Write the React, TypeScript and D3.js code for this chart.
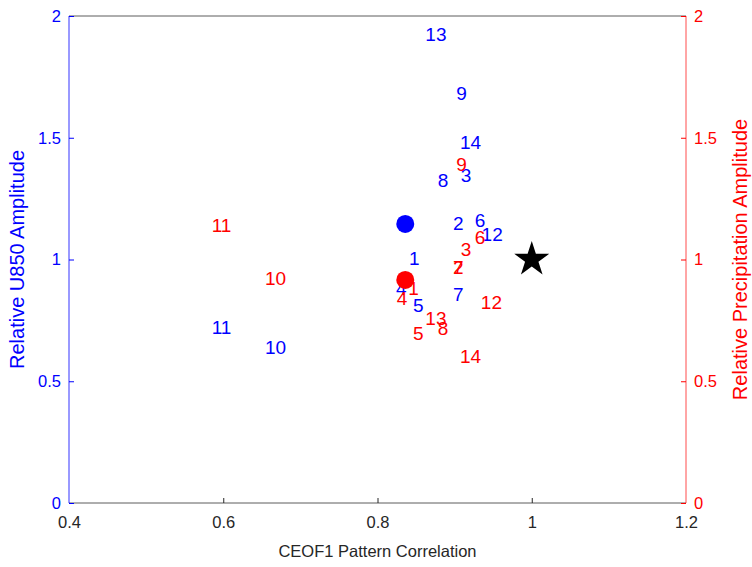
import { useEffect, useRef } from 'react'
import * as d3 from 'd3'

// CEOF1 pattern correlation vs relative amplitude, per model (1..14)
const models = ['1', '2', '3', '4', '5', '6', '7', '8', '9', '10', '11', '12', '13', '14']
const corr = [0.841, 0.898, 0.908, 0.824, 0.846, 0.926, 0.898, 0.878, 0.902, 0.654, 0.585, 0.935, 0.862, 0.907]
const u850Amp = [1.006, 1.15, 1.347, 0.883, 0.813, 1.162, 0.858, 1.326, 1.684, 0.641, 0.723, 1.105, 1.926, 1.483]

const corrPr = [0.840, 0.898, 0.908, 0.825, 0.846, 0.926, 0.898, 0.878, 0.902, 0.654, 0.585, 0.934, 0.862, 0.907]
const prAmp = [0.883, 0.969, 1.043, 0.842, 0.698, 1.092, 0.969, 0.719, 1.392, 0.924, 1.142, 0.825, 0.76, 0.604]

// multi-model mean markers and the observation reference
const meanU850 = { corr: 0.836, amp: 1.146 }
const meanPr = { corr: 0.836, amp: 0.916 }
const obs = { corr: 1, amp: 1 }

const xTicks = [0.4, 0.6, 0.8, 1, 1.2]
const yTicks = [0, 0.5, 1, 1.5, 2]

const BLUE = '#0000ff'
const RED = '#ff0000'
const GREY = '#262626'
const FONT = '"Liberation Sans", Arial, Helvetica, sans-serif'

export default function App() {
  const svgRef = useRef<SVGSVGElement>(null)
  const width = 752
  const height = 567

  useEffect(() => {
    const el = svgRef.current
    if (!el) return

    const margin = { top: 16, right: 66, bottom: 64, left: 69 }
    const w = width - margin.left - margin.right
    const h = height - margin.top - margin.bottom

    const x = d3.scaleLinear().domain([0.4, 1.2]).range([0, w])
    const yL = d3.scaleLinear().domain([0, 2]).range([h, 0])
    const yR = d3.scaleLinear().domain([0, 2]).range([h, 0])

    const svg = d3.select(el)
    svg.selectAll('*').remove()
    svg.append('rect').attr('width', width).attr('height', height).attr('fill', '#fff')

    const g = svg.append('g').attr('transform', `translate(${margin.left},${margin.top})`)

    const styleAxis = (ax: any, color: string) => {
      ax.select('.domain').remove()
      ax.selectAll('line').attr('stroke', color).attr('stroke-width', 1)
      ax.selectAll('text')
        .attr('fill', color)
        .attr('font-family', FONT)
        .attr('font-size', '16.5px')
    }

    // top & bottom box lines
    g.append('line').attr('x1', 0).attr('x2', w).attr('y1', 0).attr('y2', 0)
      .attr('stroke', GREY).attr('stroke-opacity', 0.75)
    g.append('line').attr('x1', 0).attr('x2', w).attr('y1', h).attr('y2', h)
      .attr('stroke', GREY).attr('stroke-opacity', 0.75)

    g.append('g')
      .attr('transform', `translate(0,${h})`)
      .call(d3.axisBottom(x).tickValues(xTicks).tickFormat(d3.format('~g') as any).tickSizeInner(-5).tickSizeOuter(0).tickPadding(13))
      .call(ax => styleAxis(ax, GREY))
      .call(ax => ax.selectAll('.tick').filter((d: any) => d === 0.4 || d === 1.2).select('line').remove())

    g.append('g')
      .call(d3.axisLeft(yL).tickValues(yTicks).tickFormat(d3.format('~g') as any).tickSizeInner(-5).tickSizeOuter(0).tickPadding(8))
      .call(ax => styleAxis(ax, BLUE))
    g.append('line').attr('x1', 0).attr('x2', 0).attr('y1', 0).attr('y2', h)
      .attr('stroke', BLUE).attr('stroke-opacity', 0.8)

    g.append('g')
      .attr('transform', `translate(${w},0)`)
      .call(d3.axisRight(yR).tickValues(yTicks).tickFormat(d3.format('~g') as any).tickSizeInner(-5).tickSizeOuter(0).tickPadding(8))
      .call(ax => styleAxis(ax, RED))
    g.append('line').attr('x1', w).attr('x2', w).attr('y1', 0).attr('y2', h)
      .attr('stroke', RED).attr('stroke-opacity', 0.7)

    // axis titles
    svg.append('text')
      .attr('x', margin.left + w / 2).attr('y', 557)
      .attr('text-anchor', 'middle')
      .attr('font-family', FONT).attr('font-size', '16.5px').attr('fill', GREY)
      .text('CEOF1 Pattern Correlation')
    svg.append('text')
      .attr('transform', `translate(24,${margin.top + h / 2}) rotate(-90)`)
      .attr('text-anchor', 'middle')
      .attr('font-family', FONT).attr('font-size', '20px').attr('fill', BLUE)
      .text('Relative U850 Amplitude')
    svg.append('text')
      .attr('transform', `translate(747,${margin.top + h / 2}) rotate(-90)`)
      .attr('text-anchor', 'middle')
      .attr('font-family', FONT).attr('font-size', '20px').attr('fill', RED)
      .text('Relative Precipitation Amplitude')

    // model numbers (blue = U850, red = precipitation)
    const labelFs = 19
    g.append('g').selectAll('text').data(models).join('text')
      .attr('x', (_, i) => x(corr[i]))
      .attr('y', (_, i) => yL(u850Amp[i]))
      .attr('dy', '0.36em')
      .attr('font-family', FONT).attr('font-size', `${labelFs}px`).attr('fill', BLUE)
      .text(d => d)

    g.append('circle')
      .attr('cx', x(meanU850.corr)).attr('cy', yL(meanU850.amp)).attr('r', 9)
      .attr('fill', BLUE)

    g.append('g').selectAll('text').data(models).join('text')
      .attr('x', (_, i) => x(corrPr[i]))
      .attr('y', (_, i) => yR(prAmp[i]))
      .attr('dy', '0.36em')
      .attr('font-family', FONT).attr('font-size', `${labelFs}px`).attr('fill', RED)
      .text(d => d)

    g.append('circle')
      .attr('cx', x(meanPr.corr)).attr('cy', yR(meanPr.amp)).attr('r', 9)
      .attr('fill', RED)

    g.append('path')
      .attr('d', d3.symbol(d3.symbolStar, 380)() as string)
      .attr('transform', `translate(${x(obs.corr)},${yL(obs.amp)})`)
      .attr('fill', '#000')
  }, [])

  return (
    <svg
      ref={svgRef}
      width={width}
      height={height}
      style={{ display: 'block', position: 'absolute', left: 0, top: 0 }}
    />
  )
}
